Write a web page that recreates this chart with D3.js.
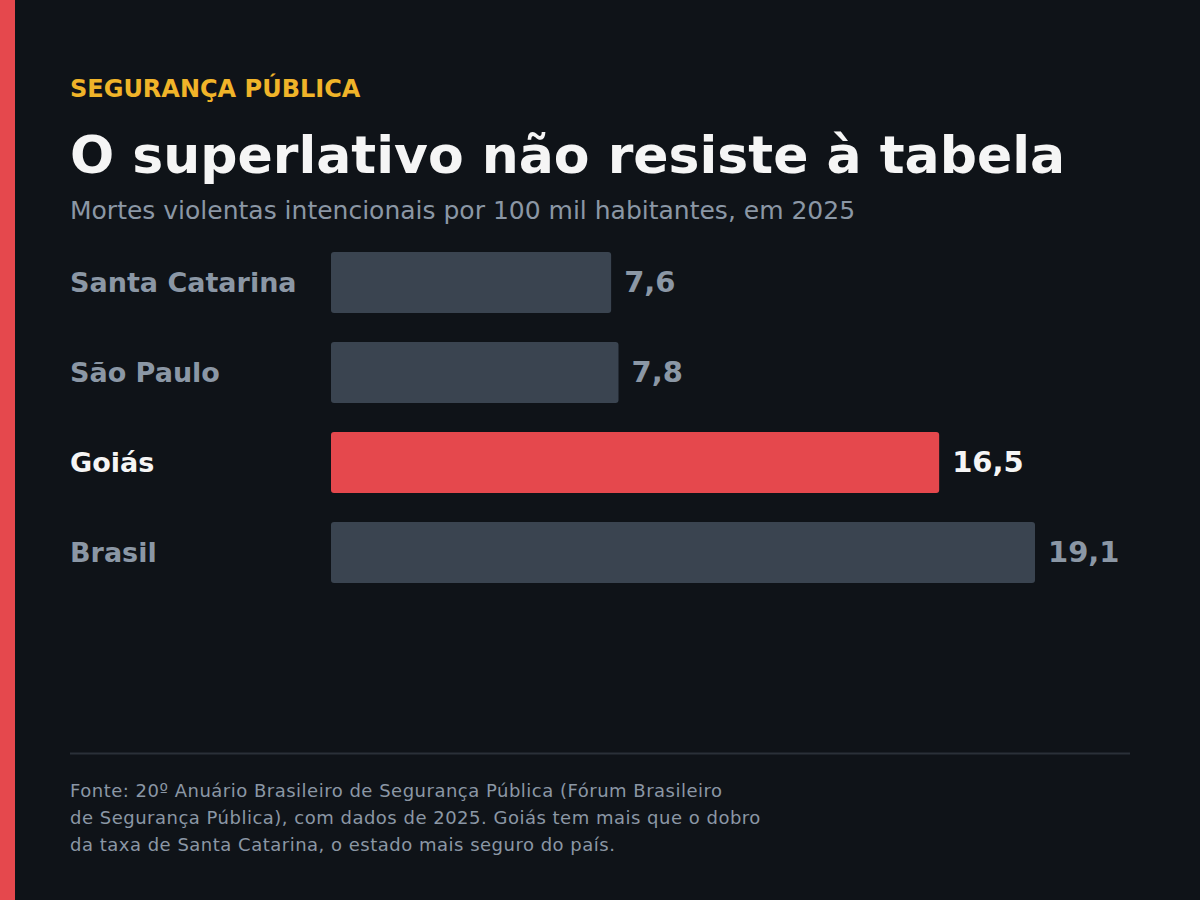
<!DOCTYPE html>
<html><head><meta charset="utf-8">
<script src="https://cdn.jsdelivr.net/npm/d3@7"></script>
<style>html,body{margin:0;padding:0;background:#0f1318;}svg{display:block;}</style>
</head><body>
<script>
const categories = ["Santa Catarina", "São Paulo", "Goiás", "Brasil"];
const values = [7.6, 7.8, 16.5, 19.1];
const valueLabels = ["7,6", "7,8", "16,5", "19,1"];
const highlight = "Goiás";
const eyebrow = "SEGURANÇA PÚBLICA";
const title = "O superlativo não resiste à tabela";
const subtitle = "Mortes violentas intencionais por 100 mil habitantes, em 2025";
const footerLines = [
  "Fonte: 20º Anuário Brasileiro de Segurança Pública (Fórum Brasileiro",
  "de Segurança Pública), com dados de 2025. Goiás tem mais que o dobro",
  "da taxa de Santa Catarina, o estado mais seguro do país."
];

const W = 1200, H = 900;
const font = "'DejaVu Sans', sans-serif";
const svg = d3.select("body").append("svg").attr("width", W).attr("height", H);
svg.append("rect").attr("width", W).attr("height", H).attr("fill", "#0f1318");
svg.append("rect").attr("width", 15).attr("height", H).attr("fill", "#e5484d");

svg.append("text").attr("x", 70).attr("y", 97).text(eyebrow)
  .attr("font-family", font).attr("font-weight", "bold").attr("font-size", 24)
  .attr("fill", "#f0b429");
svg.append("text").attr("x", 70).attr("y", 173).text(title)
  .attr("font-family", font).attr("font-weight", "bold").attr("font-size", 52)
  .attr("fill", "#f5f5f5");
svg.append("text").attr("x", 70).attr("y", 219).text(subtitle)
  .attr("font-family", font).attr("font-size", 25).attr("fill", "#8b97a5");

const x = d3.scaleLinear().domain([0, d3.max(values)]).range([331, 1035]);
const y = d3.scaleBand().domain(categories).range([237, 597]).paddingInner(1/3).paddingOuter(1/6);

const g = svg.append("g");
const rows = g.selectAll("g.row").data(categories).join("g").attr("class", "row");
rows.append("rect")
  .attr("x", x(0))
  .attr("y", d => y(d))
  .attr("width", (d, i) => x(values[i]) - x(0))
  .attr("height", y.bandwidth() + 1)
  .attr("rx", 3)
  .attr("fill", d => d === highlight ? "#e5484d" : "#3a4450");
rows.append("text")
  .attr("x", 70)
  .attr("y", d => y(d) + y.bandwidth() / 2)
  .attr("dy", "0.36em")
  .text(d => d)
  .attr("font-family", font).attr("font-weight", "bold").attr("font-size", 27)
  .attr("fill", d => d === highlight ? "#f5f5f5" : "#8b97a5");
rows.append("text")
  .attr("x", (d, i) => x(values[i]) + 13)
  .attr("y", d => y(d) + y.bandwidth() / 2)
  .attr("dy", "0.35em")
  .text((d, i) => valueLabels[i])
  .attr("font-family", font).attr("font-weight", "bold").attr("font-size", 29)
  .attr("fill", d => d === highlight ? "#f5f5f5" : "#8b97a5");

svg.append("line").attr("x1", 70).attr("x2", 1130).attr("y1", 753.5).attr("y2", 753.5)
  .attr("stroke", "#2a3038").attr("stroke-width", 2);
svg.append("g").selectAll("text").data(footerLines).join("text")
  .attr("x", 70).attr("y", (d, i) => 797 + i * 27)
  .text(d => d)
  .attr("font-family", font).attr("font-size", 18).attr("letter-spacing", 0.5)
  .attr("fill", "#8b97a5");
</script>
</body></html>
